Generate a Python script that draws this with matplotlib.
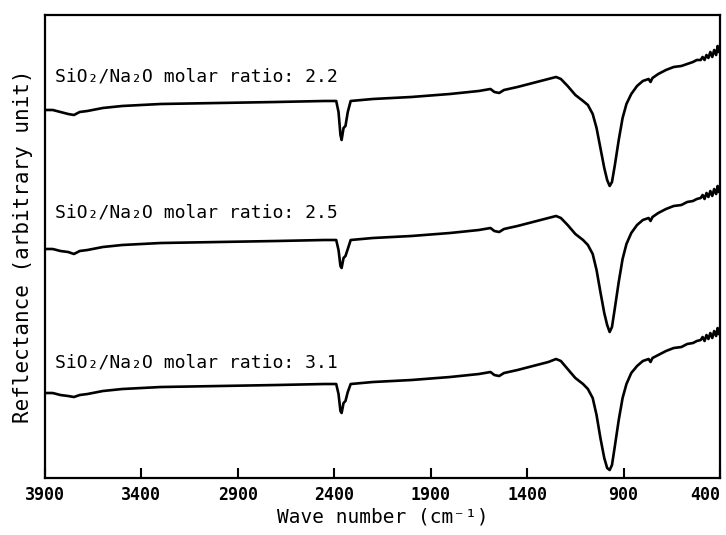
import matplotlib
matplotlib.use("Agg")
import matplotlib.pyplot as plt

# -----------------------------
# SPECTRA (wave number, reflectance in arbitrary units)
# -----------------------------

wn_22 = [3900, 3860, 3820, 3780, 3750, 3720, 3680, 3600, 3500, 3300, 3000, 2700,
         2450, 2390, 2378, 2368, 2362, 2352, 2342, 2330, 2315, 2200, 2000, 1800,
         1650, 1590, 1570, 1545, 1520, 1450, 1350, 1290, 1250, 1225, 1190, 1150,
         1110, 1085, 1060, 1040, 1020, 1000, 985, 972, 960, 945, 925, 905, 885,
         860, 830, 800, 785, 770, 760, 750, 720, 680, 640, 600, 570, 540, 520,
         500, 490, 480, 470, 460, 450, 440, 430, 420, 412, 408, 402]
refl_22 = [368, 368, 366, 364, 363, 366, 367, 370, 372, 374, 375, 376,
           377, 377, 366, 343, 338, 350, 352, 366, 377, 379, 381, 384,
           387, 389, 386, 385, 388, 391, 396, 399, 401, 399, 392, 383,
           377, 373, 364, 350, 330, 310, 298, 292, 296, 313, 338, 360, 374,
           384, 392, 397, 398, 399, 396, 400, 404, 408, 411, 412, 414, 416, 418,
           418, 421, 418, 423, 420, 426, 421, 428, 423, 432, 426, 430]

wn_25 = [3900, 3860, 3820, 3780, 3750, 3720, 3680, 3600, 3500, 3300, 3000, 2700,
         2450, 2390, 2378, 2368, 2362, 2352, 2342, 2330, 2315, 2200, 2000, 1800,
         1650, 1590, 1570, 1545, 1520, 1450, 1350, 1290, 1250, 1225, 1190, 1150,
         1110, 1085, 1060, 1040, 1020, 1000, 985, 972, 960, 945, 925, 905, 885,
         860, 830, 800, 785, 770, 760, 750, 720, 680, 640, 600, 570, 540, 520,
         500, 490, 480, 470, 460, 450, 440, 430, 420, 412, 408, 402]
refl_25 = [229, 229, 227, 226, 224, 227, 228, 231, 233, 235, 236, 237,
           238, 238, 228, 212, 210, 220, 222, 229, 238, 240, 242, 245,
           248, 250, 247, 246, 249, 252, 257, 260, 262, 260, 253, 244,
           238, 233, 224, 208, 186, 165, 153, 146, 151, 170, 196, 219, 234,
           245, 253, 258, 259, 260, 257, 261, 265, 269, 272, 273, 276, 277, 279,
           280, 283, 279, 285, 281, 287, 282, 289, 284, 292, 286, 290]

wn_31 = [3900, 3860, 3820, 3780, 3750, 3720, 3680, 3600, 3500, 3300, 3000, 2700,
         2450, 2390, 2378, 2368, 2362, 2352, 2342, 2330, 2315, 2200, 2000, 1800,
         1650, 1590, 1570, 1545, 1520, 1450, 1350, 1290, 1250, 1225, 1190, 1150,
         1110, 1085, 1060, 1040, 1020, 1000, 985, 972, 960, 945, 925, 905, 885,
         860, 830, 800, 785, 770, 760, 750, 720, 680, 640, 600, 570, 540, 520,
         500, 490, 480, 470, 460, 450, 440, 430, 420, 412, 408, 402]
refl_31 = [85, 85, 83, 82, 81, 83, 84, 87, 89, 91, 92, 93,
           94, 94, 84, 67, 65, 75, 77, 86, 94, 96, 98, 101,
           104, 106, 103, 102, 105, 108, 113, 116, 119, 117, 109, 100,
           94, 89, 80, 63, 40, 20, 10, 8, 13, 32, 58, 80, 94,
           105, 112, 117, 118, 119, 116, 120, 123, 127, 130, 131, 134, 135, 137,
           138, 141, 137, 143, 139, 145, 140, 147, 142, 150, 144, 147]

labels = ["SiO₂/Na₂O molar ratio: 2.2",
          "SiO₂/Na₂O molar ratio: 2.5",
          "SiO₂/Na₂O molar ratio: 3.1"]
label_heights = [401, 265, 116]

xticks = [3900, 3400, 2900, 2400, 1900, 1400, 900, 400]

# -----------------------------
# FIGURE
# -----------------------------

plt.rcParams['font.family'] = ['DejaVu Sans Mono', 'DejaVu Sans']

fig = plt.figure(figsize=(7.26, 5.35), dpi=100)
ax = fig.add_axes([0.062, 0.1065, 0.9297, 0.8655])

for wn, refl in [(wn_22, refl_22), (wn_25, refl_25), (wn_31, refl_31)]:
    ax.plot(wn, refl, color='black', linewidth=1.9)

for text, h in zip(labels, label_heights):
    ax.text(3850, h, text, fontsize=13, va='center', ha='left')

ax.set_xlim(3900, 400)
ax.set_ylim(0, 463)
ax.set_xticks(xticks)
ax.set_xticklabels([str(t) for t in xticks], fontsize=12, fontweight='bold')
ax.set_yticks([])
ax.tick_params(axis='x', direction='in', length=7, width=1.5, pad=6)

# last tick label sits against the right edge
ax.get_xticklabels()[-1].set_horizontalalignment('right')

for s in ax.spines.values():
    s.set_linewidth(1.6)

ax.set_xlabel("Wave number (cm⁻¹)", fontsize=14, labelpad=2)
ax.set_ylabel("Reflectance (arbitrary unit)", fontsize=15, labelpad=9)

plt.savefig("out.png", dpi=100)
